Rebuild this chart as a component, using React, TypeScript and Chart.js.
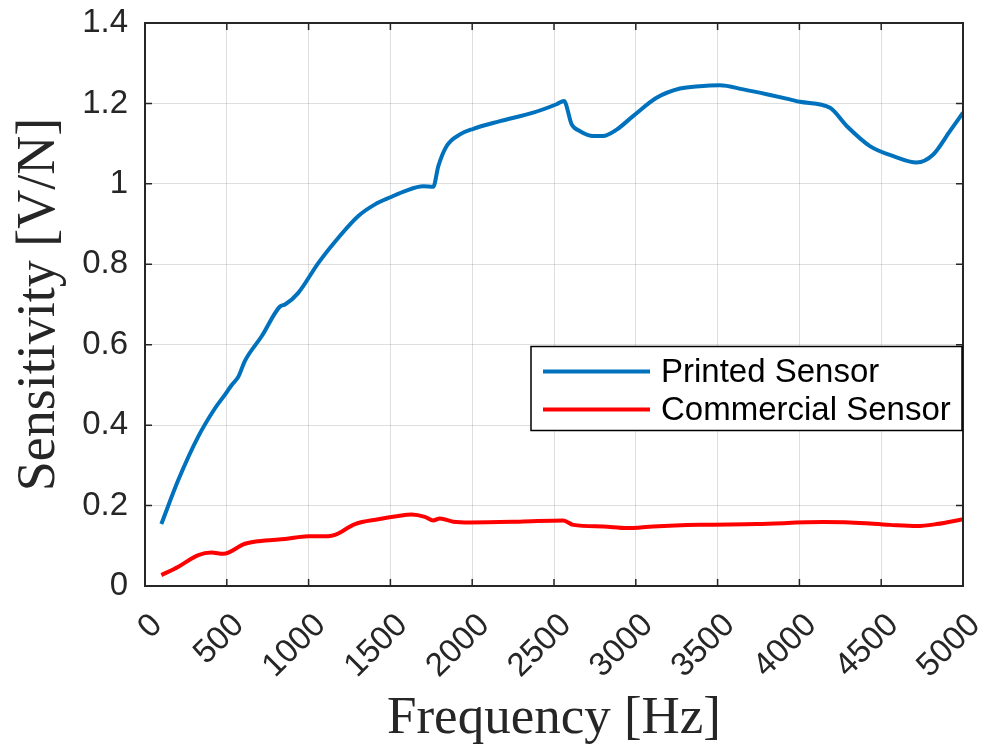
import React, { useEffect, useRef } from 'react';
import { Chart, registerables } from 'chart.js';

Chart.register(...registerables);

// ---- Data ----
const printedFreq = [100, 204, 326, 428, 489, 530, 570, 611, 713, 825, 856, 937, 1059, 1182, 1304, 1406, 1508, 1589, 1701, 1762, 1793, 1844, 1925, 2007, 2170, 2373, 2516, 2561, 2608, 2659, 2740, 2800, 2883, 2985, 3127, 3270, 3392, 3514, 3657, 3800, 3942, 4003, 4187, 4289, 4431, 4574, 4717, 4818, 4920, 5000];
const printedSens = [0.154, 0.264, 0.372, 0.442, 0.476, 0.500, 0.520, 0.560, 0.621, 0.695, 0.700, 0.729, 0.803, 0.866, 0.920, 0.949, 0.968, 0.982, 0.994, 0.993, 1.044, 1.094, 1.123, 1.137, 1.156, 1.177, 1.198, 1.206, 1.148, 1.131, 1.119, 1.119, 1.135, 1.169, 1.214, 1.237, 1.243, 1.245, 1.235, 1.223, 1.210, 1.204, 1.189, 1.144, 1.094, 1.069, 1.053, 1.073, 1.131, 1.177];

const commercialFreq = [100, 204, 326, 407, 479, 611, 733, 856, 998, 1120, 1161, 1284, 1426, 1548, 1630, 1711, 1762, 1803, 1884, 1986, 2292, 2557, 2618, 2801, 2944, 3107, 3392, 3739, 4146, 4309, 4553, 4717, 4839, 5000];
const commercialSens = [0.027, 0.048, 0.077, 0.083, 0.080, 0.105, 0.113, 0.117, 0.124, 0.124, 0.127, 0.154, 0.166, 0.174, 0.178, 0.172, 0.163, 0.168, 0.160, 0.158, 0.160, 0.163, 0.152, 0.148, 0.144, 0.148, 0.152, 0.154, 0.159, 0.158, 0.152, 0.149, 0.154, 0.166];

const seriesLabels = ['Printed Sensor', 'Commercial Sensor'];
const seriesColors = ['#0072BD', '#FF0000'];

const xMin = 0;
const xMax = 5000;
const xStep = 500;
const yMin = 0;
const yMax = 1.4;
const yStep = 0.2;

const xTitle = 'Frequency [Hz]';
const yTitle = 'Sensitivity [V/N]';

const AXIS_COLOR = '#262626';
const SANS = "'Liberation Sans', Arial, Helvetica, sans-serif";
const SERIF = "'Liberation Serif', 'Times New Roman', serif";

const W = 987;
const H = 751;

const boxPlugin = {
  id: 'matlabBox',
  afterDraw(chart: any) {
    const { ctx, chartArea: a, scales } = chart;
    ctx.save();
    // inner ticks
    ctx.strokeStyle = AXIS_COLOR;
    ctx.lineWidth = 1.5;
    const tl = 7;
    scales.x.ticks.forEach((t: any) => {
      const px = scales.x.getPixelForValue(t.value);
      ctx.beginPath();
      ctx.moveTo(px, a.bottom);
      ctx.lineTo(px, a.bottom - tl);
      ctx.moveTo(px, a.top);
      ctx.lineTo(px, a.top + tl);
      ctx.stroke();
    });
    scales.y.ticks.forEach((t: any) => {
      const py = scales.y.getPixelForValue(t.value);
      ctx.beginPath();
      ctx.moveTo(a.left, py);
      ctx.lineTo(a.left + tl, py);
      ctx.moveTo(a.right, py);
      ctx.lineTo(a.right - tl, py);
      ctx.stroke();
    });
    // box
    ctx.lineWidth = 2;
    ctx.strokeRect(a.left, a.top, a.right - a.left, a.bottom - a.top);

    // legend (inside the axes, right side)
    const bw = 431;
    const bh = 84;
    const bx = a.right - bw - 1;
    const by = a.top + 323.5;
    ctx.fillStyle = '#ffffff';
    ctx.fillRect(bx, by, bw, bh);
    ctx.strokeStyle = '#000000';
    ctx.lineWidth = 1.5;
    ctx.strokeRect(bx, by, bw, bh);
    ctx.font = `33px ${SANS}`;
    ctx.textBaseline = 'middle';
    ctx.textAlign = 'left';
    chart.data.datasets.forEach((ds: any, i: number) => {
      const ry = by + 25 + i * 38;
      ctx.strokeStyle = ds.borderColor;
      ctx.lineWidth = 4;
      ctx.beginPath();
      ctx.moveTo(bx + 12, ry);
      ctx.lineTo(bx + 119, ry);
      ctx.stroke();
      ctx.fillStyle = '#000000';
      ctx.fillText(ds.label, bx + 130, ry + 1);
    });
    ctx.restore();
  },
};

export default function App() {
  const ref = useRef<HTMLCanvasElement | null>(null);

  useEffect(() => {
    document.body.style.margin = '0';
    const canvas = ref.current;
    if (!canvas) return;

    const printed = printedFreq.map((f, i) => ({ x: f, y: printedSens[i] }));
    const commercial = commercialFreq.map((f, i) => ({ x: f, y: commercialSens[i] }));

    const chart = new Chart(canvas, {
      type: 'line',
      data: {
        datasets: [
          {
            label: seriesLabels[0],
            data: printed,
            borderColor: seriesColors[0],
            backgroundColor: seriesColors[0],
            borderWidth: 4,
            pointRadius: 0,
            cubicInterpolationMode: 'monotone',
            fill: false,
          },
          {
            label: seriesLabels[1],
            data: commercial,
            borderColor: seriesColors[1],
            backgroundColor: seriesColors[1],
            borderWidth: 4,
            pointRadius: 0,
            cubicInterpolationMode: 'monotone',
            fill: false,
          },
        ],
      },
      options: {
        animation: false,
        responsive: false,
        devicePixelRatio: 1,
        layout: { padding: { top: 23, right: 24, left: 0, bottom: 0 } },
        plugins: {
          legend: { display: false },
          tooltip: { enabled: false },
        },
        scales: {
          x: {
            type: 'linear',
            min: xMin,
            max: xMax,
            border: { display: false },
            grid: { color: 'rgba(0,0,0,0.13)', lineWidth: 1, drawTicks: false },
            ticks: {
              stepSize: xStep,
              minRotation: 45,
              maxRotation: 45,
              padding: 20,
              labelOffset: 12,
              color: AXIS_COLOR,
              font: { family: SANS, size: 33 },
              callback: (v: any) => String(v),
            },
            title: {
              display: true,
              text: xTitle,
              color: AXIS_COLOR,
              font: { family: SERIF, size: 53 },
              padding: { top: 0, bottom: 0 },
            },
            afterFit: (s: any) => {
              s.height = H - 586;
              s.paddingLeft = 0;
              s.paddingRight = 0;
            },
          },
          y: {
            type: 'linear',
            min: yMin,
            max: yMax,
            border: { display: false },
            grid: { color: 'rgba(0,0,0,0.13)', lineWidth: 1, drawTicks: false },
            ticks: {
              stepSize: yStep,
              padding: 17,
              color: AXIS_COLOR,
              font: { family: SANS, size: 33 },
              callback: (v: any) => String(Math.round(Number(v) * 10) / 10),
            },
            title: {
              display: true,
              text: yTitle,
              color: AXIS_COLOR,
              font: { family: SERIF, size: 54 },
              padding: { top: 7, bottom: 0 },
            },
            afterFit: (s: any) => {
              s.width = 145;
              s.paddingTop = 0;
              s.paddingBottom = 0;
            },
          },
        },
      },
      plugins: [boxPlugin],
    } as any);

    return () => chart.destroy();
  }, []);

  return (
    <div style={{ width: W, height: H }}>
      <canvas ref={ref} width={W} height={H} style={{ width: W, height: H, display: 'block' }} />
    </div>
  );
}
